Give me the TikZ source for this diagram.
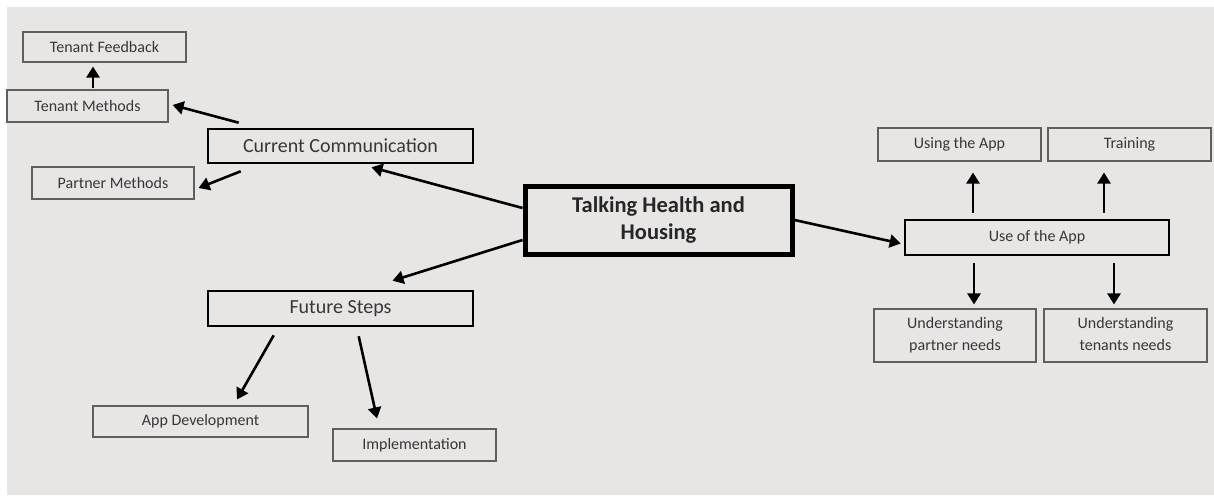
\documentclass[tikz,border=0pt]{standalone}
\usepackage{fontspec}
\setmainfont{Carlito}
\usetikzlibrary{calc,arrows.meta}
\definecolor{bg}{RGB}{232,229,229}
\definecolor{txt}{RGB}{55,55,55}
\definecolor{thin}{RGB}{95,95,95}
\tikzset{
  smallbox/.style={draw=thin,line width=1.1pt,fill=bg,text=txt,font=\fontsize{16}{22}\selectfont,align=center,inner sep=0pt},
  midbox/.style={draw=black,line width=2.6pt,fill=bg,text=txt,font=\fontsize{20}{24}\selectfont,align=center,inner sep=0pt},
  appbox/.style={draw=black,line width=2.6pt,fill=bg,text=txt,font=\fontsize{16}{20}\selectfont,align=center,inner sep=0pt},
  mainbox/.style={draw=black,line width=5pt,fill=bg,text=black!85,font=\bfseries\fontsize{22.5}{27}\selectfont,align=center,inner sep=0pt},
  arr/.style={draw=black,line width=2.6pt,-{Triangle[length=11pt,width=13pt]}}
}
\begin{document}
\begin{tikzpicture}[x=1pt,y=-1pt]
\fill[white] (0,0) rectangle (1214,495);
\fill[bg] (7,7) rectangle (1214,495);
\node[smallbox,minimum width=163,minimum height=30] (tf) at (104.5,47) {Tenant Feedback};
\node[smallbox,minimum width=161,minimum height=32] (tm) at (87.5,106) {Tenant Methods};
\node[midbox,minimum width=265,minimum height=34] (cc) at (340.5,146) {Current Communication};
\node[smallbox,minimum width=162,minimum height=32] (pm) at (113,183) {Partner Methods};
\node[mainbox,minimum width=267,minimum height=68] (th) at (658.5,220) {Talking Health and\\Housing};
\node[midbox,minimum width=265,minimum height=35] (fs) at (340.5,308.5) {Future Steps};
\node[smallbox,minimum width=215,minimum height=31] (ad) at (200.5,421.5) {App Development};
\node[smallbox,minimum width=163,minimum height=32] (im) at (414.5,445) {Implementation};
\node[appbox,minimum width=264,minimum height=35] (ua) at (1037,237.5) {Use of the App};
\node[smallbox,minimum width=163,minimum height=33] (uta) at (959.5,144.5) {Using the App};
\node[smallbox,minimum width=163,minimum height=33] (tr) at (1129.5,144.5) {Training};
\node[smallbox,minimum width=162,minimum height=53] (up) at (955,335.5) {\strut Understanding\\\strut partner needs};
\node[smallbox,minimum width=163,minimum height=53] (ut) at (1125.5,335.5) {\strut Understanding\\\strut tenants needs};
\draw[arr] ($(th.west)+(0,-12)$) -- ($(cc.south)+(31,3)$);
\draw[arr] ($(th.west)+(0,20)$) -- ($(fs.north)+(52,-9)$);
\draw[arr] (th.east) -- ($(ua.west)+(-3,6)$);
\draw[arr] ($(cc.north west)+(32,-5)$) -- ($(tm.east)+(4,-1)$);
\draw[arr] ($(cc.south west)+(34,7)$) -- ($(pm.east)+(4,5)$);
\draw[arr] ($(tm.north)+(5.5,-1)$) -- ($(tf.south)+(-11.5,4)$);
\draw[arr] ($(fs.south west)+(67,8)$) -- ($(ad.north)+(36.5,-6)$);
\draw[arr] ($(fs.south west)+(152,9)$) -- ($(im.north)+(-37.5,-10)$);
\draw[arr] ($(ua.north)+(-64,-6)$) -- ($(uta.south)+(13.5,11)$);
\draw[arr] ($(ua.north)+(67,-6)$) -- ($(tr.south)+(-25.5,11)$);
\draw[arr] ($(ua.south)+(-63,7)$) -- ($(up.north)+(19,-4)$);
\draw[arr] ($(ua.south)+(77,7)$) -- ($(ut.north)+(-11.5,-4)$);
\end{tikzpicture}
\end{document}
